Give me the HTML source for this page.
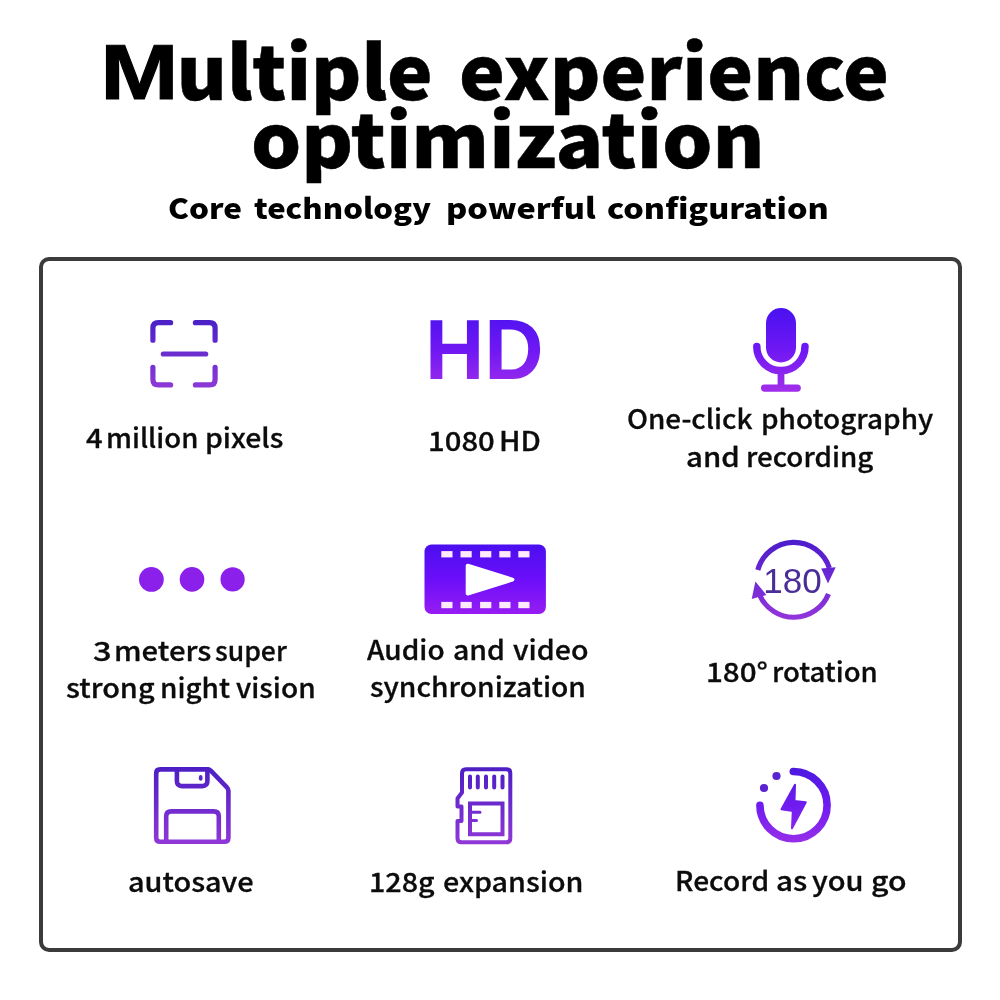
<!DOCTYPE html>
<html lang="en">
<head>
<meta charset="utf-8">
<title>Multiple experience optimization</title>
<style>
html,body{margin:0;padding:0;background:#fff;}
body{width:1000px;height:1000px;position:relative;overflow:hidden;font-family:"Liberation Sans","DejaVu Sans",sans-serif;color:#000;}
.t{position:absolute;white-space:nowrap;line-height:1;margin:0;transform-origin:0 0;}
.h1{font-family:"Noto Sans CJK SC","Liberation Sans",sans-serif;font-weight:900;font-size:74.5px;-webkit-text-stroke:0.5px #000;}
.m{display:inline-block;width:60px;line-height:0;transform-origin:0 0;font-family:'Liberation Sans',sans-serif;font-weight:bold;font-size:78px;-webkit-text-stroke:1px #000;}
.h2{font-family:"Noto Sans CJK SC","Liberation Sans",sans-serif;font-weight:900;font-size:28.5px;}
.box{position:absolute;left:39px;top:257px;width:915px;height:687px;border:4px solid #3b3b3b;border-radius:10px;}
.lb{font-family:"Noto Sans CJK SC","Liberation Sans",sans-serif;font-weight:500;font-size:26.6px;color:#0c0c0c;-webkit-text-stroke:0.3px #0c0c0c;}
svg{position:absolute;overflow:visible;}
h1,h2,p{margin:0;padding:0;font:inherit;}
</style>
</head>
<body>
<h1 aria-label="Multiple experience optimization">
<span class="t h1" style="left:115.16px;top:30.5px;transform:scaleX(1.029)"><span class="m" style="transform:translate(-14.44px,-0.6px) scaleX(1.171)">M</span>ultiple</span>
<span class="t h1" style="left:458.9px;top:30.5px;transform:scaleX(1.0367)">experience</span>
<span class="t h1" style="left:250.6px;top:98.5px;transform:scaleX(1.0609)">optimization</span>
</h1>
<h2 aria-label="Core technology powerful configuration">
<span class="t h2" style="left:168.1px;top:193.2px;transform:scaleX(1.1038)">Core</span>
<span class="t h2" style="left:253.6px;top:193.2px;transform:scaleX(1.0889)">technology</span>
<span class="t h2" style="left:445.7px;top:193.2px;transform:scaleX(1.138)">powerful</span>
<span class="t h2" style="left:606.9px;top:193.2px;transform:scaleX(1.1337)">configuration</span>
</h2>
<div class="box"></div>
<!--LABELS-->
<p aria-label="4 million pixels">
<span class="t lb" style="left:86.2px;top:424.0px;transform:scaleX(1.096)">4</span>
<span class="t lb" style="left:106.1px;top:424.0px;transform:scaleX(1.035)">million</span>
<span class="t lb" style="left:204.5px;top:424.0px;transform:scaleX(1.065)">pixels</span>
</p>
<p aria-label="1080 HD">
<span class="t lb" style="left:428.0px;top:426.5px;transform:scaleX(1.101)">1080</span>
<span class="t lb" style="left:498.5px;top:426.5px;transform:scaleX(1.094)">HD</span>
</p>
<p aria-label="One-click photography and recording">
<span class="t lb" style="left:627.0px;top:405.1px;transform:scaleX(1.047)">One-click</span>
<span class="t lb" style="left:760.9px;top:405.1px;transform:scaleX(1.050)">photography</span>
<span class="t lb" style="left:685.5px;top:443.1px;transform:scaleX(1.104)">and</span>
<span class="t lb" style="left:746.3px;top:443.1px;transform:scaleX(1.043)">recording</span>
</p>
<p aria-label="3 meters super strong night vision">
<span class="t lb" style="left:93.0px;top:636.6px;transform:scaleX(1.231)">3</span>
<span class="t lb" style="left:114.2px;top:636.6px;transform:scaleX(1.100)">meters</span>
<span class="t lb" style="left:214.8px;top:636.6px;transform:scaleX(0.997)">super</span>
<span class="t lb" style="left:66.3px;top:673.8px;transform:scaleX(1.085)">strong</span>
<span class="t lb" style="left:159.9px;top:673.8px;transform:scaleX(1.050)">night</span>
<span class="t lb" style="left:236.2px;top:673.8px;transform:scaleX(1.055)">vision</span>
</p>
<p aria-label="Audio and video synchronization">
<span class="t lb" style="left:366.9px;top:635.6px;transform:scaleX(1.054)">Audio</span>
<span class="t lb" style="left:452.9px;top:635.6px;transform:scaleX(1.069)">and</span>
<span class="t lb" style="left:512.5px;top:635.6px;transform:scaleX(1.074)">video</span>
<span class="t lb" style="left:369.7px;top:672.5px;transform:scaleX(1.060)">synchronization</span>
</p>
<p aria-label="180° rotation">
<span class="t lb" style="left:705.8px;top:657.6px;transform:scaleX(1.113)">180°</span>
<span class="t lb" style="left:771.5px;top:657.6px;transform:scaleX(1.035)">rotation</span>
</p>
<p aria-label="autosave">
<span class="t lb" style="left:127.8px;top:867.5px;transform:scaleX(1.086)">autosave</span>
</p>
<p aria-label="128g expansion">
<span class="t lb" style="left:369.1px;top:868.0px;transform:scaleX(1.078)">128g</span>
<span class="t lb" style="left:442.7px;top:868.0px;transform:scaleX(1.077)">expansion</span>
</p>
<p aria-label="Record as you go">
<span class="t lb" style="left:675.0px;top:867.4px;transform:scaleX(1.058)">Record</span>
<span class="t lb" style="left:776.4px;top:867.4px;transform:scaleX(1.112)">as</span>
<span class="t lb" style="left:812.3px;top:867.4px;transform:scaleX(1.093)">you</span>
<span class="t lb" style="left:870.8px;top:867.4px;transform:scaleX(1.138)">go</span>
</p>
<!--/LABELS-->
<!--ICONS-->
<svg width="1000" height="1000" viewBox="0 0 1000 1000" style="left:0;top:0">
<defs>
<linearGradient id="g1" gradientUnits="userSpaceOnUse" x1="0" y1="310" x2="0" y2="392"><stop offset="0" stop-color="#4a12f0"/><stop offset="0.5" stop-color="#7018f4"/><stop offset="1" stop-color="#a22eea"/></linearGradient>
<linearGradient id="g1s" gradientUnits="userSpaceOnUse" x1="0" y1="318" x2="0" y2="390"><stop offset="0" stop-color="#4820c6"/><stop offset="1" stop-color="#8f3ad8"/></linearGradient>
<linearGradient id="g2" gradientUnits="userSpaceOnUse" x1="0" y1="542" x2="0" y2="618"><stop offset="0" stop-color="#480fee"/><stop offset="0.5" stop-color="#6c0efa"/><stop offset="1" stop-color="#9c1ef2"/></linearGradient>
<linearGradient id="g2s" gradientUnits="userSpaceOnUse" x1="0" y1="538" x2="0" y2="622"><stop offset="0" stop-color="#4a1ccc"/><stop offset="1" stop-color="#9536dc"/></linearGradient>
<linearGradient id="g3" gradientUnits="userSpaceOnUse" x1="0" y1="766" x2="0" y2="846"><stop offset="0" stop-color="#4a18e0"/><stop offset="0.5" stop-color="#701cf0"/><stop offset="1" stop-color="#9a30e8"/></linearGradient>
<linearGradient id="g3s" gradientUnits="userSpaceOnUse" x1="0" y1="766" x2="0" y2="846"><stop offset="0" stop-color="#4a1ec4"/><stop offset="1" stop-color="#9238d8"/></linearGradient>
</defs>
<!-- 1: scan frame -->
<g fill="none" stroke="url(#g1s)" stroke-width="5.2" stroke-linecap="round" stroke-linejoin="round">
<path d="M152.9 340.2V328.2Q152.9 322.7 158.4 322.7H170.6"/>
<path d="M195.4 322.7H209.6Q215.1 322.7 215.1 328.2V340.2"/>
<path d="M152.9 367.4V379.4Q152.9 384.9 158.4 384.9H170.6"/>
<path d="M195.4 384.9H209.6Q215.1 384.9 215.1 379.4V367.4"/>
<path d="M163.3 354H205.7"/>
</g>
<!-- 2: HD -->
<text x="484.2" y="379.2" text-anchor="middle" font-family="Liberation Sans, Arial, sans-serif" font-weight="bold" font-size="85.2" fill="url(#g1)" textLength="118.6" lengthAdjust="spacingAndGlyphs">HD</text>
<!-- 3: microphone -->
<rect x="766" y="308" width="30" height="54.5" rx="15" fill="url(#g1)"/>
<g fill="none" stroke="url(#g1)" stroke-linecap="round">
<path d="M756.8 346.5A24.1 24.1 0 0 0 805 346.5" stroke-width="7.5"/>
<path d="M781 371V388" stroke-width="6.8" stroke-linecap="butt"/>
<path d="M764.6 388.1H797.2" stroke-width="7.3"/>
</g>
<!-- 4: three dots -->
<g fill="#8a20ea"><circle cx="151.4" cy="579.4" r="12.4"/><circle cx="192" cy="579.4" r="12.3"/><circle cx="232.6" cy="579.4" r="12.1"/></g>
<!-- 5: film -->
<rect x="424.5" y="544.5" width="121.4" height="69.6" rx="7" fill="url(#g2)"/>
<g fill="#fdeafc">
<rect x="441.3" y="551.1" width="11.2" height="6.3"/><rect x="460.5" y="551.1" width="11.2" height="6.3"/><rect x="480.1" y="551.1" width="11.2" height="6.3"/><rect x="499.3" y="551.1" width="11.2" height="6.3"/><rect x="518.3" y="551.1" width="11.2" height="6.3"/>
<rect x="441.3" y="601.9" width="11.2" height="6.3"/><rect x="460.5" y="601.9" width="11.2" height="6.3"/><rect x="480.1" y="601.9" width="11.2" height="6.3"/><rect x="499.3" y="601.9" width="11.2" height="6.3"/><rect x="518.3" y="601.9" width="11.2" height="6.3"/>
</g>
<path d="M467.7 565.7L512.4 579.6L467.7 593.5Z" fill="#fff" stroke="#fff" stroke-width="4" stroke-linejoin="round"/>
<!-- 6: 180 rotation -->
<g fill="none" stroke="url(#g2s)" stroke-width="5.2">
<path d="M757.8 570A37.4 37.4 0 0 1 829.4 568.1"/>
<path d="M828.5 593.9A37.4 37.4 0 0 1 759.6 594.9"/>
</g>
<g fill="url(#g2s)">
<path d="M821.2 568.6L835.7 567.2L828 583.6Z"/>
<path d="M755.4 581.5L751.7 599L766.4 594.9Z"/>
</g>
<text x="792.4" y="592.7" text-anchor="middle" font-family="Liberation Sans, Arial, sans-serif" font-size="35.6" fill="#4a2e98" textLength="58.5" lengthAdjust="spacingAndGlyphs">180</text>
<!-- 7: floppy -->
<g fill="none" stroke="url(#g3s)" stroke-width="4.6" stroke-linejoin="round" stroke-linecap="round">
<path d="M160.2 769.4H207.5Q209.5 769.4 211 770.9L226.9 787.4Q228.4 789 228.4 791V837.8Q228.4 841.8 224.4 841.8H160.2Q156.2 841.8 156.2 837.8V773.4Q156.2 769.4 160.2 769.4Z"/>
<path d="M176.9 769.4V781.1Q176.9 786.1 181.9 786.1H202.4Q207.4 786.1 207.4 781.1V769.4"/>
<path d="M166.2 841.8V816.4Q166.2 811.4 171.2 811.4H213.8Q218.8 811.4 218.8 816.4V841.8"/>
</g>
<ellipse cx="200.7" cy="777.8" rx="1.9" ry="2.9" fill="#5a28c8"/>
<!-- 8: sd card -->
<g fill="none" stroke="url(#g3s)" stroke-width="4" stroke-linejoin="round" stroke-linecap="round">
<path d="M466 769.2H506.3Q510.3 769.2 510.3 773.2V838.3Q510.3 842.3 506.3 842.3H461.5Q457.5 842.3 457.5 838.3V821H461.5V806.5H457.5V798.5L462 792.5V773.2Q462 769.2 466 769.2Z"/>
<path d="M470 776.5V787.5M477.8 776.5V787.5M486 776.5V787.5M494.2 776.5V787.5M502.5 776.5V787.5"/>
<path d="M470 803.5H502.5V834.2H470Z" stroke-linejoin="miter"/>
<path d="M470 812.2H480M470 820.5H476.5" stroke-width="3"/>
</g>
<!-- 9: bolt circle -->
<path d="M793.3 771.5A33.6 33.6 0 1 1 759.9 805.3" fill="none" stroke="url(#g3)" stroke-width="7.6" stroke-linecap="round"/>
<g fill="#5a22d0"><circle cx="776.5" cy="776" r="4.1"/><circle cx="764" cy="788" r="4.1"/></g>
<path d="M795 784.8L781.5 809.3L792.8 811L792 828.2L805.8 802.3L794.5 801Z" fill="url(#g3)" stroke="url(#g3)" stroke-width="2" stroke-linejoin="round"/>
</svg>
<!--/ICONS-->
</body>
</html>
